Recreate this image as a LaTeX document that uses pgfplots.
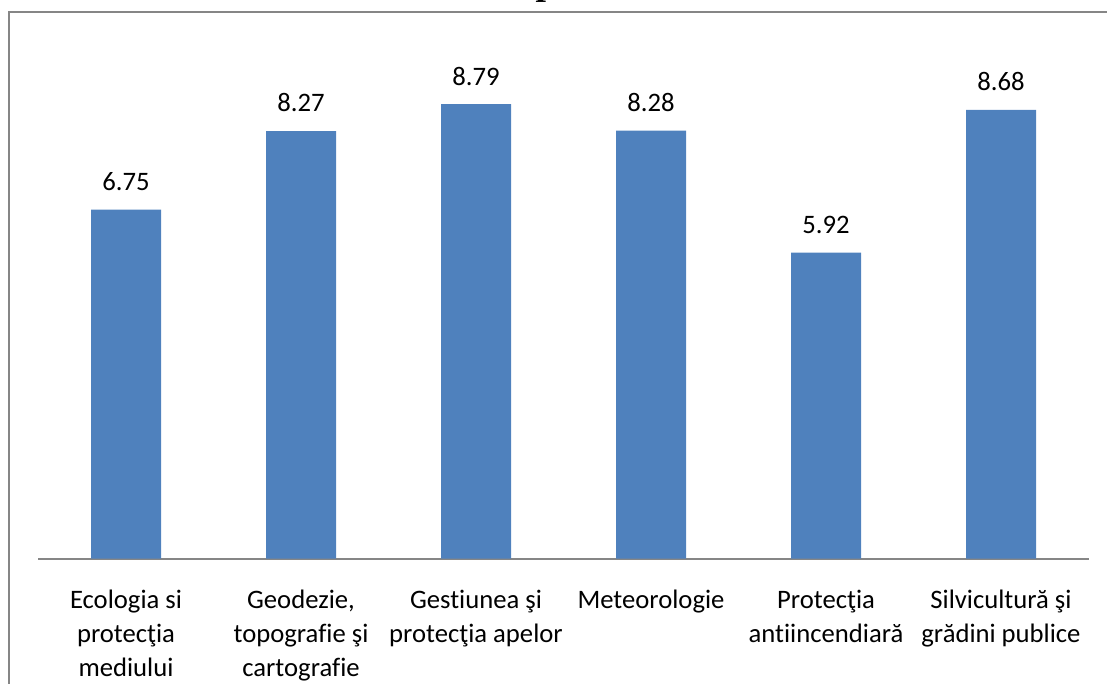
\documentclass[border=0pt]{standalone}
\usepackage{pgfplots}
\pgfplotsset{compat=1.18}
\usepackage{fontspec}
\setmainfont{Carlito}[RawFeature=-liga]
\newfontfamily\titlefont{Liberation Serif}

\definecolor{barblue}{HTML}{4F81BD}
\definecolor{framegray}{HTML}{868686}

\begin{document}
\begin{tikzpicture}
% page is 1107 x 683 px, 1px = 0.75pt
\begin{scope}[x=0.75pt, y=0.75pt]
\useasboundingbox (0,0) rectangle (1107,683);
\clip (0,0) rectangle (1107,683);
\draw[framegray, line width=1.5pt] (8.5,-30) -- (8.5,671) -- (1130,671);
% title is cut off by the page edge, only the tail of a letter shows
\node[anchor=base, inner sep=0, font=\titlefont\bfseries\itshape\fontsize{28}{34}\selectfont] at (548,688) {p};
\end{scope}
\begin{axis}[
    at={(28.875pt,93.375pt)},
    anchor=south west,
    scale only axis,
    width=787.5pt,
    height=387.6pt,
    xmin=-0.5, xmax=5.5,
    ymin=0, ymax=10,
    axis x line*=bottom,
    axis y line=none,
    x axis line style={draw=framegray, line width=1.5pt, -},
    xtick={0,1,2,3,4,5},
    xticklabels={{Ecologia si\\protecţia\\mediului},
                 {Geodezie,\\topografie şi\\cartografie},
                 {Gestiunea şi\\protecţia apelor},
                 {Meteorologie},
                 {Protecţia\\antiincendiară},
                 {Silvicultură şi\\grădini publice}},
    xticklabel style={align=center, anchor=north, inner sep=0pt, yshift=-23.25pt,
        font=\fontsize{20}{25.5}\selectfont},
    major tick length=0pt,
    ytick=\empty,
    clip=false,
    ybar,
    bar width=52.5pt,
    nodes near coords,
    nodes near coords style={font=\fontsize{20}{24}\selectfont, inner sep=0pt, yshift=14pt},
    /pgf/number format/.cd, fixed, fixed zerofill, precision=2, assume math mode=true,
]
\addplot[fill=barblue, draw=none] coordinates {
    (0,6.75) (1,8.27) (2,8.79) (3,8.28) (4,5.92) (5,8.68)
};
\end{axis}
\end{tikzpicture}
\end{document}
